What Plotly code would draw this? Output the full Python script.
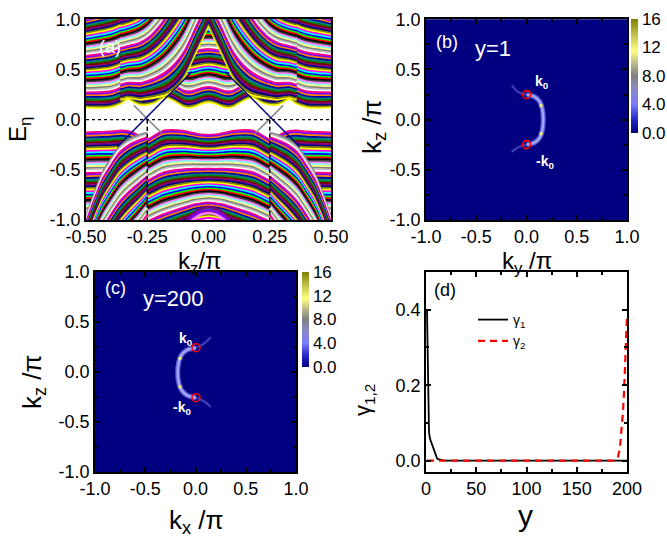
import plotly.graph_objects as go

W, H = 667, 537
FONT = "Liberation Sans, Arial, sans-serif"

# ---------------- panel (a): band templates (kz >= 0, mirrored) -------------
KZ_HALF = [0.0, 0.03, 0.06, 0.08, 0.10, 0.12, 0.15, 0.18, 0.20, 0.22, 0.25, 0.28, 0.30, 0.33, 0.36, 0.40, 0.45, 0.50]
COND_LOW = [0.175, 0.16, 0.13, 0.12, 0.13, 0.16, 0.20, 0.225, 0.20, 0.17, 0.15, 0.15, 0.17, 0.21, 0.16, 0.125, 0.12, 0.125]
COND_HIGH = [1.10, 1.10, 1.10, 1.10, 1.10, 1.11, 1.12, 1.13, 1.12, 1.11, 1.12, 1.14, 1.16, 1.18, 1.12, 1.08, 1.05, 1.02]
N_COND = 60

KZ_TENT = [0.0, 0.03, 0.06, 0.08, 0.10, 0.12, 0.15, 0.18, 0.20, 0.22, 0.25, 0.28, 0.30, 0.33, 0.36]
TENT_EDGE = [0.92, 0.78, 0.63, 0.52, 0.42, 0.35, 0.28, 0.24, 0.23, 0.22, 0.21, 0.20, 0.21, 0.22, 0.20]
TENT_FAR = [2.30, 2.15, 2.00, 1.90, 1.80, 1.70, 1.55, 1.40, 1.30, 1.22, 1.12, 1.06, 1.03, 1.00, 0.98]
N_TENT = 52

VAL_TOP = [-0.155, -0.15, -0.135, -0.125, -0.115, -0.11, -0.105, -0.11, -0.13, -0.16, -0.20, -0.17, -0.14, -0.115, -0.11, -0.12, -0.125, -0.13]
VAL_LOW = [-0.98, -0.99, -1.01, -1.03, -1.05, -1.07, -1.10, -1.13, -1.15, -1.17, -1.20, -1.18, -1.17, -1.15, -1.14, -1.13, -1.12, -1.12]
N_VAL = 60

KZ_SH = [0.25, 0.28, 0.32, 0.36, 0.40, 0.43, 0.46, 0.50]
SH_EDGE = [-0.13, -0.15, -0.19, -0.26, -0.40, -0.52, -0.70, -0.97]
SH_FAR = [-0.95, -1.05, -1.17, -1.30, -1.45, -1.57, -1.70, -1.90]
N_SH = 52

KZ_ARCH = [0.0, 0.03, 0.06, 0.09]
ARCH_E = [-0.87, -0.885, -0.93, -1.0]
ARCH_SHIFT = [0.0, -0.03, -0.06]

NAVY_KZ = [-0.372, -0.067]
NAVY_E = [-0.27, 0.48]
GRAY_KZ = [-0.305, -0.189]
GRAY_E = [0.143, -0.14]
NODE_KZ = [-0.25, 0.25]
NODE_E = [0.0, -1.0]

ORIGIN_COLORS = ["#000000", "#FF0000", "#00FF00", "#0000FF", "#00FFFF", "#FF00FF", "#FFFF00", "#808000",
                 "#000080", "#800080", "#800000", "#008000", "#008080", "#0000A0", "#FF8000", "#8000FF",
                 "#FF0080", "#FFFFFF", "#C0C0C0", "#808080", "#FFFF80", "#80FFFF", "#FF80FF", "#404040"]

# ---------------- panels (b), (c) ----------------
HM_K = [-1.0, 1.0]
HM_Z = [[0.0, 0.0], [0.0, 0.0]]
ARC_B_KY = [-0.147, -0.082, 0.002, 0.085, 0.134, 0.157, 0.167, 0.157, 0.134, 0.085, 0.002, -0.082, -0.147]
ARC_B_KZ = [0.342, 0.276, 0.249, 0.226, 0.176, 0.109, 0.0, -0.109, -0.176, -0.226, -0.249, -0.276, -0.322]
SPOT_B_KY = [0.144, 0.144]
SPOT_B_KZ = [0.14, -0.14]
K0_B_KY = [0.002, 0.002]
K0_B_KZ = [0.249, -0.249]

ARC_C_KX = [0.151, 0.08, 0.005, -0.085, -0.14, -0.165, -0.177, -0.165, -0.14, -0.085, 0.005, 0.08, 0.151]
ARC_C_KZ = [0.347, 0.28, 0.243, 0.22, 0.17, 0.105, -0.005, -0.115, -0.18, -0.232, -0.257, -0.29, -0.35]
SPOT_C_KX = [-0.154, -0.154]
SPOT_C_KZ = [0.137, -0.147]
K0_C_KX = [0.005, 0.005]
K0_C_KZ = [0.243, -0.257]

CB_TICKS = [0, 4, 8, 12, 16]
CB_TEXT = ["0.0", "4.0", "8.0", "12", "16"]

# ---------------- panel (d) ----------------
Y1 = [1, 2, 3, 4, 5, 6, 7, 8, 9, 10, 11, 12, 14, 16, 18, 20, 50, 100, 150, 200]
G1 = [0.40, 0.20, 0.075, 0.058, 0.05, 0.043, 0.036, 0.028, 0.018, 0.01, 0.006, 0.004, 0.002, 0.001, 0.0, 0.0, 0.0, 0.0, 0.0, 0.0]
Y2 = [1, 50, 100, 150, 185, 189, 191, 193, 195, 196, 197, 198, 199, 200]
G2 = [0.0, 0.0, 0.0, 0.0, 0.0, 0.002, 0.01, 0.035, 0.09, 0.13, 0.18, 0.26, 0.33, 0.385]


def mirrored(kz_half, vals):
    if kz_half[0] == 0:
        x = [-k for k in reversed(kz_half)] + list(kz_half[1:])
        y = list(reversed(vals)) + list(vals[1:])
    else:
        x = [-k for k in reversed(kz_half)] + [None] + list(kz_half)
        y = list(reversed(vals)) + [None] + list(vals)
    return x, y


fig = go.Figure()


def add_family(kz_half, low, high, n, color_start, step):
    for i in range(n):
        t = i / (n - 1)
        vals = [(1 - t) * a + t * b for a, b in zip(low, high)]
        x, y = mirrored(kz_half, vals)
        c = ORIGIN_COLORS[(color_start + step * i) % len(ORIGIN_COLORS)]
        fig.add_trace(go.Scatter(x=x, y=y, mode="lines", xaxis="x", yaxis="y",
                                 line=dict(color=c, width=2.2, shape="spline", smoothing=0.6),
                                 hoverinfo="skip", showlegend=False))


add_family(KZ_HALF, COND_LOW, COND_HIGH, N_COND, 6, 1)
add_family(KZ_TENT, TENT_EDGE, TENT_FAR, N_TENT, 6, 1)
add_family(KZ_HALF, VAL_TOP, VAL_LOW, N_VAL, 16, -1)
add_family(KZ_SH, SH_EDGE, SH_FAR, N_SH, 19, -1)

for j, s in enumerate(ARCH_SHIFT):
    x, y = mirrored(KZ_ARCH, [e + s for e in ARCH_E])
    fig.add_trace(go.Scatter(x=x, y=y, mode="lines", xaxis="x", yaxis="y",
                             line=dict(color=["#800080", "#8000FF", "#FF80FF"][j], width=2.4, shape="spline"),
                             hoverinfo="skip", showlegend=False))

for sgn in (1, -1):
    fig.add_trace(go.Scatter(x=[sgn * k for k in GRAY_KZ], y=GRAY_E, mode="lines", xaxis="x", yaxis="y",
                             line=dict(color="#808080", width=1.5), hoverinfo="skip", showlegend=False))
for sgn in (1, -1):
    fig.add_trace(go.Scatter(x=[sgn * k for k in NAVY_KZ], y=NAVY_E, mode="lines", xaxis="x", yaxis="y",
                             line=dict(color="#000080", width=1.5), hoverinfo="skip", showlegend=False))
for k in NODE_KZ:
    fig.add_trace(go.Scatter(x=[k, k], y=NODE_E, mode="lines", xaxis="x", yaxis="y",
                             line=dict(color="#000000", width=1.5, dash="4px,3px"), hoverinfo="skip", showlegend=False))
fig.add_trace(go.Scatter(x=[-0.5, 0.5], y=[0, 0], mode="lines", xaxis="x", yaxis="y",
                         line=dict(color="#000000", width=1.3, dash="dot"), hoverinfo="skip", showlegend=False))

# ---------------- heatmaps ----------------
CSCALE = [[0.0, "#000080"], [0.12, "#2828c8"], [0.25, "#7b7bff"], [0.4, "#8a8ac0"], [0.5, "#808080"],
          [0.6, "#b4b48c"], [0.72, "#ffff80"], [0.85, "#c8c850"], [1.0, "#808000"]]


def colorbar(x_px, top_px, bot_px):
    return dict(x=x_px / W, xanchor="left", xpad=0, y=1 - top_px / H, yanchor="top", ypad=0,
                len=(bot_px - top_px) / H, lenmode="fraction", thickness=7, outlinewidth=0,
                tickvals=CB_TICKS, ticktext=CB_TEXT, ticks="", tickfont=dict(size=17, family=FONT, color="black"))


fig.add_trace(go.Heatmap(x=HM_K, y=HM_K, z=HM_Z, zmin=0, zmax=16, colorscale=CSCALE, xaxis="x2", yaxis="y2",
                         colorbar=colorbar(631, 19, 133), hoverinfo="skip"))
fig.add_trace(go.Heatmap(x=HM_K, y=HM_K, z=HM_Z, zmin=0, zmax=16, colorscale=CSCALE, xaxis="x3", yaxis="y3",
                         colorbar=colorbar(302, 272, 367), hoverinfo="skip"))


def add_arc(xa, ya, kx, kz, sx, sy, cx, cy):
    for seg in (slice(0, 3), slice(10, 13)):
        fig.add_trace(go.Scatter(x=kx[seg], y=kz[seg], mode="lines", xaxis=xa, yaxis=ya,
                                 line=dict(color="#3c3cb4", width=2.2, shape="spline"), hoverinfo="skip", showlegend=False))
    fig.add_trace(go.Scatter(x=kx[2:11], y=kz[2:11], mode="lines", xaxis=xa, yaxis=ya,
                             line=dict(color="#5c5cd8", width=5, shape="spline"), hoverinfo="skip", showlegend=False))
    fig.add_trace(go.Scatter(x=kx[2:11], y=kz[2:11], mode="lines", xaxis=xa, yaxis=ya,
                             line=dict(color="#a4a4f6", width=2.4, shape="spline"), hoverinfo="skip", showlegend=False))
    fig.add_trace(go.Scatter(x=sx, y=sy, mode="markers", xaxis=xa, yaxis=ya,
                             marker=dict(color="#e8e860", size=3.5), hoverinfo="skip", showlegend=False))
    fig.add_trace(go.Scatter(x=cx, y=cy, mode="markers", xaxis=xa, yaxis=ya,
                             marker=dict(symbol="circle-open", color="#ff0000", size=8, line=dict(width=1.6, color="#ff0000")),
                             hoverinfo="skip", showlegend=False))


add_arc("x2", "y2", ARC_B_KY, ARC_B_KZ, SPOT_B_KY, SPOT_B_KZ, K0_B_KY, K0_B_KZ)
add_arc("x3", "y3", ARC_C_KX, ARC_C_KZ, SPOT_C_KX, SPOT_C_KZ, K0_C_KX, K0_C_KZ)

# ---------------- panel (d) ----------------
fig.add_trace(go.Scatter(x=Y1, y=G1, mode="lines", xaxis="x4", yaxis="y4", name="γ<sub>1</sub>",
                         line=dict(color="#000000", width=1.8), hoverinfo="skip"))
fig.add_trace(go.Scatter(x=Y2, y=G2, mode="lines", xaxis="x4", yaxis="y4", name="γ<sub>2</sub>",
                         line=dict(color="#ff0000", width=2.2, dash="7px,5px"), hoverinfo="skip"))

# ---------------- axes ----------------
tickfont = dict(size=18, family=FONT, color="black")


def ax(domain, rng, tv, tt, minor=None, ticks="inside", layer="above traces", anchor=None):
    d = dict(domain=domain, range=rng, tickmode="array", tickvals=tv, ticktext=tt, tickfont=tickfont,
             showline=True, linecolor="black", linewidth=1.5, mirror="ticks" if ticks else True,
             ticks=ticks, ticklen=5, tickwidth=1.5, tickcolor="black", showgrid=False, zeroline=False,
             layer=layer, anchor=anchor, fixedrange=True, automargin=False)
    if minor is not None:
        d["minor"] = dict(tickmode="array", tickvals=minor, ticks="inside", ticklen=3, tickwidth=1.5,
                          tickcolor="black", showgrid=False)
    return d


K_TV = [-1.0, -0.5, 0.0, 0.5, 1.0]
K_TT = ["-1.0", "-0.5", "0.0", "0.5", "1.0"]
K_MINOR = [-0.75, -0.25, 0.25, 0.75]

dom_x_left_a = [86 / W, 331 / W]
dom_x_right = [426 / W, 627 / W]
dom_x_left_c = [95 / W, 296 / W]
dom_y_top = [1 - 220 / H, 1 - 19.3 / H]
dom_y_bot = [1 - 472 / H, 1 - 272 / H]

layout = dict(
    width=W, height=H, margin=dict(l=0, r=0, t=0, b=0, pad=0, autoexpand=False),
    paper_bgcolor="white", plot_bgcolor="white",
    font=dict(family=FONT, color="black"),
    xaxis=ax(dom_x_left_a, [-0.5, 0.5], [-0.5, -0.25, 0, 0.25, 0.5], ["-0.50", "-0.25", "0.00", "0.25", "0.50"],
             ticks="", layer="below traces", anchor="y"),
    yaxis=ax(dom_y_top, [-1, 1], [-1, -0.5, 0, 0.5, 1], ["-1.0", "-0.5", "0.0", "0.5", "1.0"],
             ticks="", layer="below traces", anchor="x"),
    xaxis2=ax(dom_x_right, [-1, 1], K_TV, K_TT, K_MINOR, anchor="y2"),
    yaxis2=ax(dom_y_top, [-1, 1], K_TV, K_TT, K_MINOR, anchor="x2"),
    xaxis3=ax(dom_x_left_c, [-1, 1], K_TV, K_TT, K_MINOR, anchor="y3"),
    yaxis3=ax(dom_y_bot, [-1, 1], K_TV, K_TT, K_MINOR, anchor="x3"),
    xaxis4=ax(dom_x_right, [0, 200], [0, 50, 100, 150, 200], ["0", "50", "100", "150", "200"], [25, 75, 125, 175], anchor="y4"),
    yaxis4=ax(dom_y_bot, [-0.03, 0.5], [0.0, 0.2, 0.4], ["0.0", "0.2", "0.4"], [0.1, 0.3], anchor="x4"),
    showlegend=True,
    legend=dict(x=473 / W, y=1 - 304 / H, xanchor="left", yanchor="top", bgcolor="rgba(0,0,0,0)",
                font=dict(size=14, family=FONT, color="black"), itemwidth=30, tracegroupgap=0),
)
fig.update_layout(**layout)


def note(text, x, y, size, rot=0, xref="paper", yref="paper", color="black", px=True):
    if px:
        x, y = x / W, 1 - y / H
    fig.add_annotation(text=text, x=x, y=y, xref=xref, yref=yref, showarrow=False, textangle=rot,
                       font=dict(size=size, family=FONT, color=color), xanchor="center", yanchor="middle")


# axis titles
note("k<sub>z</sub>/π", 200, 262, 24)
note("E<sub>η</sub>", 20, 130, 24, rot=-90)
note("k<sub>y</sub> /π", 527, 262, 24)
note("k<sub>z</sub> /π", 373, 127, 26, rot=-90)
note("k<sub>x</sub> /π", 196, 521, 26)
note("k<sub>z</sub> /π", 33, 382, 26, rot=-90)
note("y", 525, 515, 30)
note("γ<sub>1,2</sub>", 364, 400, 22, rot=-90)

# panel labels / in-plot text
note("(a)", -0.402, 0.727, 18, xref="x", yref="y", color="white", px=False)
note("(b)", -0.796, 0.777, 18, xref="x2", yref="y2", color="white", px=False)
note("y=1", -0.33, 0.71, 22, xref="x2", yref="y2", color="white", px=False)
note("<b>k<sub>0</sub></b>", 0.154, 0.375, 14, xref="x2", yref="y2", color="white", px=False)
note("<b>-k<sub>0</sub></b>", 0.184, -0.42, 14, xref="x2", yref="y2", color="white", px=False)
note("(c)", -0.80, 0.837, 18, xref="x3", yref="y3", color="white", px=False)
note("y=200", -0.214, 0.737, 22, xref="x3", yref="y3", color="white", px=False)
note("<b>k<sub>0</sub></b>", -0.095, 0.33, 14, xref="x3", yref="y3", color="white", px=False)
note("<b>-k<sub>0</sub></b>", -0.134, -0.36, 14, xref="x3", yref="y3", color="white", px=False)
note("(d)", 18.9, 0.453, 18, xref="x4", yref="y4", px=False)

fig.write_html("out.html", config={"displayModeBar": False},
               post_script="document.body.style.margin='0px';document.body.style.overflow='hidden';")
